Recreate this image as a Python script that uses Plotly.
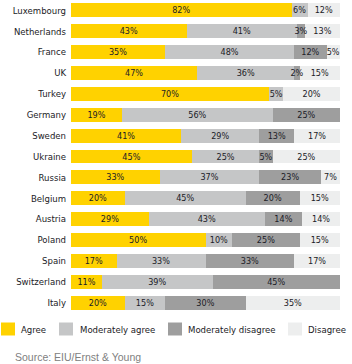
import plotly.graph_objects as go

countries = ["Luxembourg", "Netherlands", "France", "UK", "Turkey", "Germany", "Sweden",
             "Ukraine", "Russia", "Belgium", "Austria", "Poland", "Spain", "Switzerland", "Italy"]
agree = [82, 43, 35, 47, 70, 19, 41, 45, 33, 20, 29, 50, 17, 11, 20]
mod_agree = [6, 41, 48, 36, 5, 56, 29, 25, 37, 45, 43, 10, 33, 39, 15]
mod_disagree = [0, 3, 12, 2, 0, 25, 13, 5, 23, 20, 14, 25, 33, 45, 30]
disagree = [12, 13, 5, 15, 20, 0, 17, 25, 7, 15, 14, 15, 17, 0, 35]
series_names = ["Agree", "Moderately agree", "Moderately disagree", "Disagree"]
series_values = [agree, mod_agree, mod_disagree, disagree]
colors = ["#FFD200", "#C5C6C7", "#9E9E9E", "#EDEEEE"]

W, H = 352, 364
ML, MR, MT, MB = 71, 12, 0, 51
PW, PH = W - ML - MR, H - MT - MB
FONT = "DejaVu Sans Condensed, DejaVu Sans, sans-serif"
TXT = "#1b1b26"

fig = go.Figure()
# coloured bars
for name, vals, col in zip(series_names, series_values, colors):
    fig.add_trace(go.Bar(
        y=countries, x=vals, name=name, orientation="h",
        marker=dict(color=col, line=dict(width=0)),
        textposition="none", showlegend=False, hoverinfo="skip",
    ))
# transparent overlay bars carrying the value labels (drawn on top)
for name, vals in zip(series_names, series_values):
    fig.add_trace(go.Bar(
        y=countries, x=vals, name=name, orientation="h", xaxis="x2", yaxis="y2",
        marker=dict(color="rgba(0,0,0,0)", line=dict(width=0)),
        text=[f"{v}%" if v > 0 else "" for v in vals],
        textposition="inside", insidetextanchor="middle", constraintext="none",
        textangle=0,
        textfont=dict(family=FONT, size=9, color=TXT),
        showlegend=False,
    ))

def px_x(p):
    return (p - ML) / PW

def px_y(p):
    return (H - MB - p) / PH

legend_sq = [1, 59, 168, 288]
legend_tx = [19, 78, 186, 306]
shapes, annotations = [], []
for name, col, sx, tx in zip(series_names, colors, legend_sq, legend_tx):
    shapes.append(dict(type="rect", xref="paper", yref="paper",
                       x0=px_x(sx), x1=px_x(sx + 14), y0=px_y(335.5), y1=px_y(322.5),
                       fillcolor=col, line=dict(width=0)))
    annotations.append(dict(text=name, xref="paper", yref="paper", x=px_x(tx), y=px_y(329),
                            xanchor="left", yanchor="middle", showarrow=False,
                            font=dict(family=FONT, size=9.5, color=TXT)))
annotations.append(dict(text="Source: EIU/Ernst &amp; Young", xref="paper", yref="paper",
                        x=px_x(13), y=px_y(357), xanchor="left", yanchor="middle",
                        showarrow=False,
                        font=dict(family="Liberation Sans, Arial, sans-serif", size=10.5,
                                  color="#808080")))

fig.update_layout(
    width=W, height=H, margin=dict(l=ML, r=MR, t=MT, b=MB, pad=0),
    barmode="stack", barnorm="percent", bargap=0.33,
    paper_bgcolor="white", plot_bgcolor="white",
    xaxis=dict(range=[0, 100], visible=False, fixedrange=True),
    yaxis=dict(autorange="reversed", showgrid=False, zeroline=False, showline=False,
               ticks="", ticklabelstandoff=4,
               tickfont=dict(family=FONT, size=9.5, color=TXT)),
    xaxis2=dict(range=[0, 100], visible=False, fixedrange=True, overlaying="x"),
    yaxis2=dict(autorange="reversed", visible=False, overlaying="y",
                categoryorder="array", categoryarray=countries),
    shapes=shapes, annotations=annotations,
)

fig.write_html("out.html")
